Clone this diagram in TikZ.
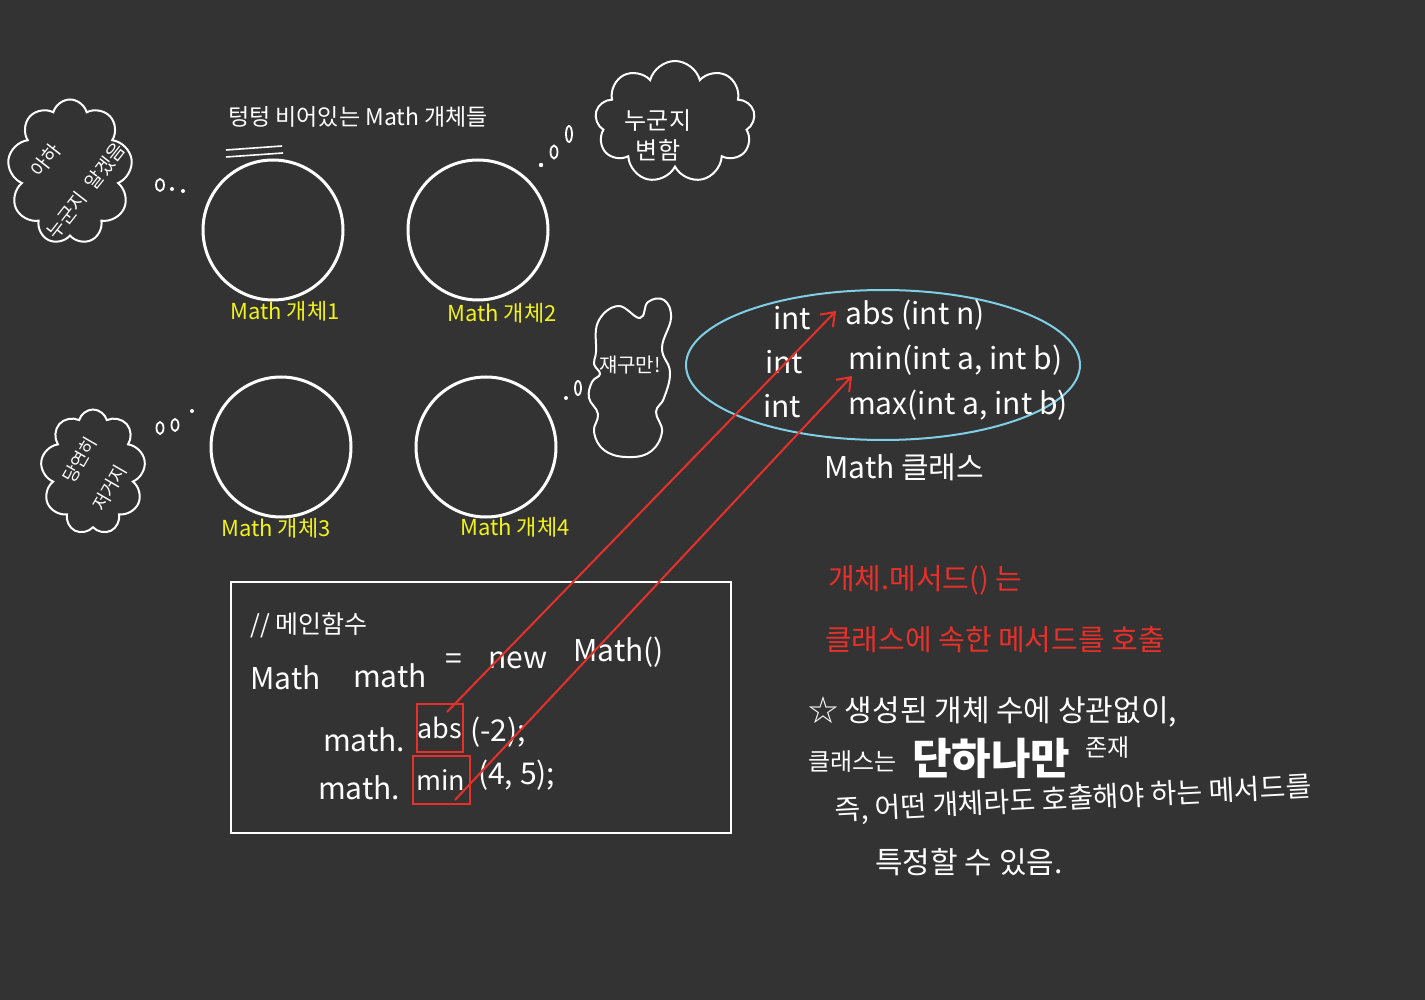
\documentclass[tikz,border=0pt]{standalone}
\usepackage{fontspec}
\setmainfont{Noto Sans CJK KR}
\newfontfamily\kr{Noto Sans CJK KR}
\usetikzlibrary{shapes.symbols,shapes.geometric,arrows.meta}
\definecolor{bg}{HTML}{333333}
\definecolor{penred}{HTML}{E8302A}
\definecolor{penyel}{HTML}{F2F21C}
\definecolor{penblue}{HTML}{7FCFE6}
\newcommand\fsz[2]{\fontsize{#1}{#2}\selectfont}
\begin{document}
\begin{tikzpicture}[x=1pt,y=-1pt,
 objc/.style={circle, draw=white, line width=3pt, minimum size=140pt, inner sep=0pt},
 ylab/.style={text=penyel, font=\fsz{22}{26}, inner sep=0pt},
 wt/.style={text=white, inner sep=0pt},
 code/.style={text=white, inner sep=0pt, anchor=west, font=\fsz{30}{34}},
 meth/.style={text=white, inner sep=0pt, anchor=west, font=\fsz{30}{34}},
 redbox/.style={draw=penred, line width=2pt, text=white, inner sep=0pt, minimum height=48pt, font=\fsz{27}{32}},
 redarrow/.style={draw=penred, line width=2pt, -{Straight Barb[length=12pt,width=18pt]}},
 thought/.style={cloud, draw=white, line width=2pt, cloud puffs=9, cloud ignores aspect, inner sep=0pt},
 bub/.style={draw=white, line width=1.8pt},
 rtxt/.style={text=penred, inner sep=0pt, anchor=west, font=\fsz{29}{33}},
 wtxt/.style={text=white, inner sep=0pt, anchor=west, font=\fsz{28}{32}}
]
\fill[bg] (0,0) rectangle (1425,1000);
\useasboundingbox (0,0) rectangle (1425,1000);

% title
\node[wt, anchor=west, font=\fsz{23}{28}] (title) at (228,117) {텅텅 비어있는 Math 개체들};
\draw[white, line width=1.6pt] (226,150) -- (282,146);
\draw[white, line width=1.6pt] (226,157) -- (283,153);

% objects
\node[objc] (c1) at (273,230) {};
\node[objc] (c2) at (478,230) {};
\node[objc] (c3) at (281,447) {};
\node[objc] (c4) at (486,447) {};
\node[ylab] (l1) at (285,311) {Math 개체1};
\node[ylab] (l2) at (502,313) {Math 개체2};
\node[ylab] (l3) at (276,528) {Math 개체3};
\node[ylab] (l4) at (515,527) {Math 개체4};

% thought clouds
\node[thought, minimum width=125pt, minimum height=145pt] (t1) at (70,172) {};
\node[wt, rotate=52, font=\fsz{19}{24}] (t1a) at (46,160) {아하};
\node[wt, rotate=52, font=\fsz{19}{24}] (t1b) at (67,215) {누군지};
\node[wt, rotate=52, font=\fsz{19}{24}] (t1c) at (105,166) {알겠음};
\draw[bub] (160,185) ellipse [x radius=4, y radius=6];
\fill[white] (172,189) circle [radius=2];
\fill[white] (183,191) circle [radius=2];

\node[thought, minimum width=160pt, minimum height=122pt] (t2) at (675,122) {};
\node[wt, align=center, font=\fsz{24}{30}] (t2t) at (658,135) {누군지\\변함};
\fill[white] (541,165) circle [radius=2.2];
\draw[bub] (554,152) ellipse [x radius=3.5, y radius=6.5];
\draw[bub] (569,134) ellipse [x radius=3, y radius=8];

\node[thought, minimum width=105pt, minimum height=125pt] (t3) at (93,472) {};
\node[wt, rotate=60, font=\fsz{18}{24}] (t3a) at (80,460) {당연히};
\node[wt, rotate=60, font=\fsz{18}{24}] (t3b) at (110,488) {저거지};
\draw[bub] (160,428) ellipse [x radius=3.5, y radius=6];
\draw[bub] (175,425) ellipse [x radius=3.5, y radius=6];
\fill[white] (192,411) circle [radius=2];

\draw[white, line width=2pt] plot[smooth cycle, tension=0.7] coordinates {
 (596,352) (598,322) (618,306) (640,318) (648,302) (664,300) (671,318)
 (662,348) (670,372) (664,398) (656,412) (662,432) (650,452) (626,457)
 (604,450) (594,432) (598,414) (589,398) (592,382) (600,374) (594,364)};
\node[wt, font=\fsz{20}{24}] (t4t) at (630,365) {쟤구만!};
\fill[white] (566,398) circle [radius=2];
\draw[bub] (578,388) ellipse [x radius=3, y radius=7];

% class ellipse
\node[ellipse, draw=penblue, line width=2pt, minimum width=394pt, minimum height=150pt] (cls) at (883,365) {};
\node[meth] (i1) at (773,318) {int};
\node[meth] (mabs) at (845,315) {abs (int n)};
\node[meth] (i2) at (765,362) {int};
\node[meth] (mmin) at (848,360) {min(int a, int b)};
\node[meth] (i3) at (763,406) {int};
\node[meth] (mmax) at (848,405) {max(int a, int b)};
\node[wt, anchor=west, font=\fsz{30}{34}] (clsl) at (824,467) {Math 클래스};

% main box
\node[draw=white, line width=2pt, minimum width=500pt, minimum height=251pt, inner sep=0pt] (mainbox) at (481,707.5) {};
\node[code, font=\fsz{25}{29}] (cm) at (250,625) {// 메인함수};
\node[code] (m1) at (250,678) {Math};
\node[code] (m2) at (353,676) {math};
\node[code] (m3) at (445,662) {=};
\node[code] (m4) at (488,660) {new};
\node[code] (m5) at (573,652) {Math()};
\node[code] (a1) at (323,740) {math.};
\node[redbox, minimum width=46pt] (absbox) at (440,728) {abs};
\node[code] (a2) at (470,732) {(-2);};
\node[code] (b1) at (318,788) {math.};
\node[redbox, minimum width=57pt] (minbox) at (441,780) {min};
\node[code] (b2) at (478,775) {(4, 5);};

% arrows
\draw[redarrow] ([shift={(7pt,16pt)}]absbox.center) -- ([shift={(-9pt,4pt)}]mabs.west);
\draw[redarrow] ([shift={(14pt,-20pt)}]minbox.center) -- ([shift={(4pt,-16pt)}]mmin.west);

% red notes
\node[rtxt] (r1) at (828,580) {개체.메서드() 는};
\node[rtxt] (r2) at (825,640) {클래스에 속한 메서드를 호출};

% white notes
\node[wtxt, font=\fsz{30}{34}] (w1) at (808,712) {☆ 생성된 개체 수에 상관없이,};
\node[wtxt, font=\fsz{24}{28}] (w2a) at (808,762) {클래스는};
\node[wtxt, font=\bfseries\fsz{43}{47}] (w2b) at (912,758) {단하나만};
\node[wtxt, font=\fsz{24}{28}] (w2c) at (1085,748) {존재};
\node[wtxt, rotate=3] (w3) at (835,812) {즉, 어떤 개체라도 호출해야 하는 메서드를};
\node[wtxt, font=\fsz{30}{34}] (w4) at (875,862) {특정할 수 있음.};
\end{tikzpicture}
\end{document}
